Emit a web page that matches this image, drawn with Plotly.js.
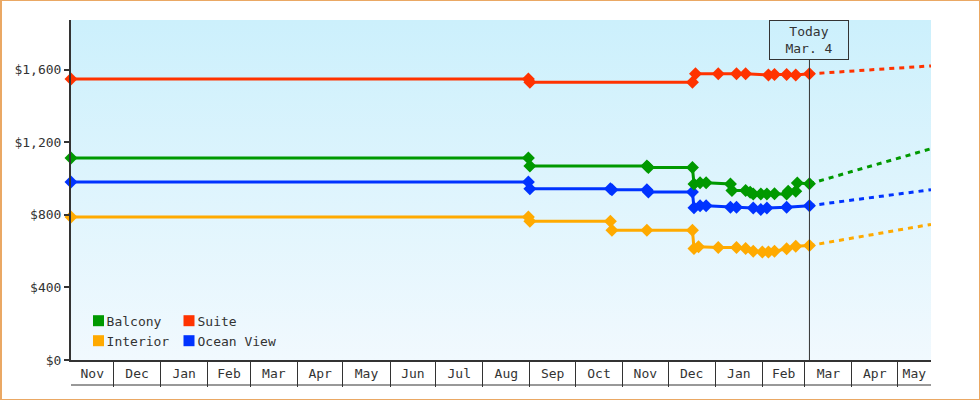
<!DOCTYPE html>
<html><head><meta charset="utf-8">
<script src="https://cdn.plot.ly/plotly-3.0.1.min.js"></script>
<style>
html,body{margin:0;padding:0;background:#fff;}
#wrap{position:relative;width:980px;height:400px;}
#chart{position:absolute;left:0;top:0;width:980px;height:400px;}
#frame{position:absolute;left:0;top:0;width:980px;height:400px;box-sizing:border-box;border:1px solid #eaa864;border-left-width:2px;pointer-events:none;}
</style>
</head><body><div id="wrap"><div id="chart"></div><div id="frame"></div></div>
<script>
// ---- data ----
const balconyDates = ['2020-11-03','2021-08-31','2021-09-01','2021-11-17','2021-11-18','2021-12-17','2021-12-18','2021-12-22','2021-12-26','2022-01-11','2022-01-12','2022-01-21','2022-01-24','2022-01-26','2022-01-31','2022-02-04','2022-02-09','2022-02-17','2022-02-18','2022-02-23','2022-02-24','2022-03-04'];
const balconyPrices = [1114,1114,1070,1070,1062,1062,971,977,977,971,935,935,925,916,916,916,917,916,930,930,976,972];

const suiteDates = ['2020-11-03','2021-08-31','2021-09-01','2021-12-17','2021-12-19','2022-01-03','2022-01-15','2022-01-21','2022-02-05','2022-02-09','2022-02-17','2022-02-23','2022-03-04'];
const suitePrices = [1549,1549,1532,1532,1578,1578,1578,1578,1572,1575,1575,1572,1578];

const oceanDates = ['2020-11-03','2021-08-31','2021-09-01','2021-10-24','2021-10-25','2021-11-17','2021-11-18','2021-12-17','2021-12-18','2021-12-22','2021-12-26','2022-01-11','2022-01-15','2022-01-26','2022-01-31','2022-02-04','2022-02-17','2022-03-04'];
const oceanPrices = [982,982,945,945,939,939,927,927,839,851,851,842,842,838,830,838,842,851];

const interiorDates = ['2020-11-03','2021-08-31','2021-09-01','2021-10-24','2021-10-25','2021-11-17','2021-12-17','2021-12-18','2021-12-21','2022-01-03','2022-01-15','2022-01-21','2022-01-26','2022-02-01','2022-02-05','2022-02-09','2022-02-17','2022-02-23','2022-03-04'];
const interiorPrices = [789,789,765,765,716,716,716,615,625,620,620,615,600,595,595,600,613,627,631];

const forecastDates = ['2022-03-04','2022-05-23'];
const balconyForecast = [972,1165];
const suiteForecast = [1578,1622];
const oceanForecast = [851,939];
const interiorForecast = [631,748];

const todayDate = '2022-03-04';
const todayLabel = 'Today<br>Mar. 4';
const xRange = ['2020-11-03','2022-05-23'];
const monthLabels = ['Nov','Dec','Jan','Feb','Mar','Apr','May','Jun','Jul','Aug','Sep','Oct','Nov','Dec','Jan','Feb','Mar','Apr','May'];
const yTicks = [0,400,800,1200,1600];
const yTickText = ['$0','$400','$800','$1,200','$1,600'];

const series = [
  {name:'Balcony', color:'#009900', d:balconyDates, p:balconyPrices, f:balconyForecast, legend:'legend'},
  {name:'Suite', color:'#ff3300', d:suiteDates, p:suitePrices, f:suiteForecast, legend:'legend2'},
  {name:'Interior', color:'#ffaa00', d:interiorDates, p:interiorPrices, f:interiorForecast, legend:'legend'},
  {name:'Ocean View', color:'#0033ff', d:oceanDates, p:oceanPrices, f:oceanForecast, legend:'legend2'}
];

// label positions: centre of the visible part of each month
const r0 = Date.parse(xRange[0]+'T00:00:00Z'), r1 = Date.parse(xRange[1]+'T00:00:00Z');
const monthMids = monthLabels.map((_, i) => {
  const a = Date.UTC(2020, 10 + i, 1), b = Date.UTC(2020, 11 + i, 1);
  const m = (Math.max(a, r0) + Math.min(b, r1)) / 2;
  return new Date(m).toISOString().slice(0, 19).replace('T', ' ');
});

const FONT = {family:'DejaVu Sans Mono, monospace', size:13, color:'#333'};
const traces = [];
['Interior','Ocean View','Balcony','Suite'].forEach(n=>{
  const s = series.find(o=>o.name===n);
  traces.push({x:forecastDates, y:s.f, mode:'lines', line:{color:s.color, width:3, dash:'5px,5px'}, showlegend:false, hoverinfo:'skip'});
  traces.push({x:s.d, y:s.p, mode:'lines+markers', line:{color:s.color, width:3}, marker:{symbol:'diamond', size:10, color:s.color}, showlegend:false, cliponaxis:false, name:s.name});
});
series.forEach(s=>{
  traces.push({x:[null], y:[null], mode:'markers', name:s.name, legend:s.legend, marker:{symbol:'square', size:11, color:'rgba(0,0,0,0)'}, showlegend:true});
});

// legend swatches (decoration next to legend text)
const sw = (col, row, color) => {
  const x0 = col === 0 ? 93 : 183.5, yc = row === 0 ? 320.7 : 340.7;
  return {type:'rect', xref:'paper', yref:'paper', x0:(x0-71)/860, x1:(x0+11-71)/860, y0:(360-(yc+5.5))/340, y1:(360-(yc-5.5))/340, fillcolor:color, line:{width:0}, layer:'above'};
};

const bgSvg = "<svg xmlns='http://www.w3.org/2000/svg' width='10' height='100' preserveAspectRatio='none'><defs><linearGradient id='g' x1='0' y1='0' x2='0' y2='1'><stop offset='0' stop-color='#ccf0fc'/><stop offset='1' stop-color='#f1f9fe'/></linearGradient></defs><rect width='10' height='100' fill='url(#g)'/></svg>";

const layout = {
  width:980, height:400,
  margin:{l:71, r:49, t:20, b:40},
  paper_bgcolor:'rgba(0,0,0,0)', plot_bgcolor:'rgba(0,0,0,0)',
  font:FONT,
  images:[{source:'data:image/svg+xml;charset=utf-8,'+encodeURIComponent(bgSvg), xref:'paper', yref:'paper', x:0, y:1, sizex:1, sizey:1, sizing:'stretch', layer:'below', xanchor:'left', yanchor:'top'}],
  xaxis:{type:'date', range:xRange, tickmode:'array', tickvals:monthMids, ticktext:monthLabels, ticks:'', ticklabelstandoff:0,
    minor:{tickmode:'linear', tick0:'2020-11-01', dtick:'M1', ticks:'outside', ticklen:25, tickwidth:1, tickcolor:'#333', showgrid:false},
    showline:true, linewidth:2, linecolor:'#333', showgrid:false, zeroline:false, fixedrange:true, tickfont:FONT},
  yaxis:{range:[0,1875], tickmode:'array', tickvals:yTicks, ticktext:yTickText, ticks:'outside', ticklen:5, tickwidth:2, tickcolor:'#333',
    showline:true, linewidth:2, linecolor:'#333', showgrid:false, zeroline:false, fixedrange:true, tickfont:FONT},
  showlegend:true,
  legend:{x:0.0123, y:0.012, xanchor:'left', yanchor:'bottom', bgcolor:'rgba(0,0,0,0)', font:FONT, tracegroupgap:0, orientation:'v', indentation:-15},
  legend2:{x:0.118, y:0.012, xanchor:'left', yanchor:'bottom', bgcolor:'rgba(0,0,0,0)', font:FONT, tracegroupgap:0, orientation:'v', indentation:-15},
  shapes:[
    {type:'line', xref:'x', yref:'paper', x0:todayDate, x1:todayDate, y0:0, y1:300/340, line:{color:'#333', width:1}},
    {type:'line', xref:'paper', yref:'paper', x0:0, x1:1, y0:-25/340, y1:-25/340, line:{color:'#333', width:1}},
    sw(0,0,'#009900'), sw(1,0,'#ff3300'), sw(0,1,'#ffaa00'), sw(1,1,'#0033ff')
  ],
  annotations:[{x:todayDate, xref:'x', y:1, yref:'paper', yanchor:'top', xanchor:'center', text:todayLabel, showarrow:false,
    bordercolor:'#333', borderwidth:1, borderpad:4, width:70, height:30, font:FONT, bgcolor:'rgba(0,0,0,0)'}]
};

Plotly.newPlot('chart', traces, layout, {displayModeBar:false, staticPlot:true});
</script></body></html>
